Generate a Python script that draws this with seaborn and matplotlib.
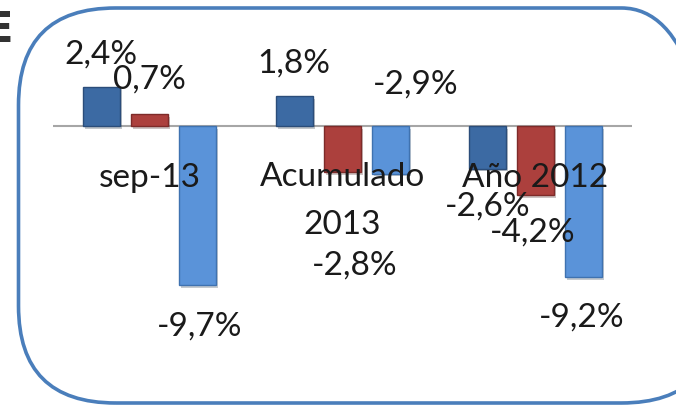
import matplotlib
matplotlib.use("Agg")
import matplotlib.pyplot as plt
import matplotlib.patheffects as pe
from matplotlib.patches import FancyBboxPatch
import pandas as pd
import seaborn as sns

# ── Data ─────────────────────────────────────────────────────────────
CATEGORIES = ["sep-13", "Acumulado\n2013", "Año 2012"]
SERIES = ["Serie 1", "Serie 2", "Serie 3"]
SERIE_1 = [2.4, 1.8, -2.6]
SERIE_2 = [0.7, -2.8, -4.2]
SERIE_3 = [-9.7, -2.9, -9.2]
LABELS = [["2,4%", "1,8%", "-2,6%"],
          ["0,7%", "-2,8%", "-4,2%"],
          ["-9,7%", "-2,9%", "-9,2%"]]

# label positions (x offset from category, y in data units)
LABEL_POS = [[(-0.25, 4.33), (-0.25, 3.78), (-0.25, -4.94)],
             [(0.0, 2.8), (0.065, -8.48), (-0.013, -6.52)],
             [(0.26, -12.2), (0.38, 2.5), (0.24, -11.65)]]
CAT_LABEL_Y = [-3.17, -4.6, -3.17]

COLORS = ["#3c6aa3", "#ac403d", "#5a93d9"]
EDGES = ["#2b4d7a", "#7e2b29", "#3f72b0"]

df = pd.DataFrame({
    "cat": CATEGORIES * 3,
    "serie": [s for s in SERIES for _ in CATEGORIES],
    "valor": SERIE_1 + SERIE_2 + SERIE_3,
})

sns.set_theme(style="white")
plt.rcParams["font.family"] = ["Lato", "DejaVu Sans"]

fig = plt.figure(figsize=(6.76, 4.05), dpi=100)
ax = fig.add_axes([53 / 676, 0.203, 579 / 676, 0.648])

sns.barplot(data=df, x="cat", y="valor", hue="serie", hue_order=SERIES,
            palette=COLORS, width=0.75, gap=0.24, legend=False, ax=ax,
            saturation=1)

# darker edges + soft shadow per series
for i, cont in enumerate(ax.containers):
    for bar in cont:
        bar.set_edgecolor(EDGES[i])
        bar.set_linewidth(1.0)
        bar.set_path_effects([pe.SimplePatchShadow(offset=(1.5, -2), alpha=0.25),
                              pe.Normal()])

ax.set_xlim(-0.5, 2.5)
ax.set_ylim(-12, 4)
ax.axhline(0, color="#a6a6a6", linewidth=1.5, zorder=0)
for s in ax.spines.values():
    s.set_visible(False)
ax.set_xticks([])
ax.set_yticks([])
ax.set_xlabel("")
ax.set_ylabel("")
ax.patch.set_alpha(0)

# category labels inside the plot
for i, cat in enumerate(CATEGORIES):
    ax.text(i, CAT_LABEL_Y[i], cat, ha="center", va="center", fontsize=24,
            color="#1a1a1a", linespacing=1.75)

# data labels
for s in range(len(SERIES)):
    for i in range(len(CATEGORIES)):
        dx, y = LABEL_POS[s][i]
        ax.text(i + dx, y, LABELS[s][i], ha="center", va="center",
                fontsize=24, color="#1a1a1a")

# rounded frame (in inches; right side runs past the picture edge)
frame = FancyBboxPatch((0.185, 0.02), 7.0, 3.95,
                       boxstyle="round,pad=0,rounding_size=0.97",
                       transform=fig.dpi_scale_trans, fill=False,
                       edgecolor="#4a7ebb", linewidth=2.6)
fig.add_artist(frame)
frame.set_clip_box(fig.bbox)

# clipped heading letter at the top-left
fig.text(13 / 676, 1 - 30 / 405, "E", ha="right", va="center",
         fontsize=30, fontweight="bold", color="#333333",
         family="DejaVu Sans")

fig.savefig("out.png", dpi=100)
